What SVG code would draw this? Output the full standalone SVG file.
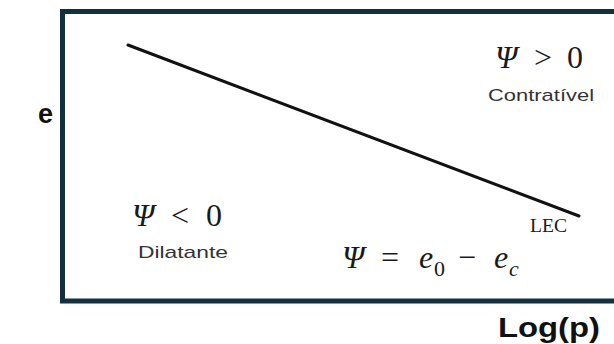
<svg xmlns="http://www.w3.org/2000/svg" width="614" height="344" viewBox="0 0 614 344">
<style>
.m{font-family:"Liberation Serif","DejaVu Serif",serif;fill:#1a1a1a}
.i{font-style:italic}
.s{font-family:"Liberation Sans","DejaVu Sans",sans-serif;fill:#333}
.b{font-family:"Liberation Sans","DejaVu Sans",sans-serif;font-weight:bold;fill:#111}
</style>
<rect width="614" height="344" fill="#fff"/>
<g id="frame">
<rect x="62.5" y="11.5" width="620" height="289.5" fill="none" stroke="#12303e" stroke-width="5"/>
</g>
<g id="connectors">
<line x1="128" y1="45" x2="579" y2="216" stroke="#111" stroke-width="3" stroke-linecap="round"/>
</g>
<g id="axis-e"><text class="b" x="38" y="123" font-size="27">e</text></g>
<g id="axis-logp"><text class="b" x="498" y="337" font-size="28" textLength="102" lengthAdjust="spacingAndGlyphs">Log(p)</text></g>
<g id="contrativel">
<text class="m" x="495" y="68" font-size="32"><tspan class="i">Ψ</tspan><tspan x="534">&gt;</tspan><tspan x="567">0</tspan></text>
<text class="s" x="488" y="101" font-size="17" textLength="106" lengthAdjust="spacingAndGlyphs">Contratível</text>
</g>
<g id="dilatante">
<text class="m" x="132" y="226" font-size="32"><tspan class="i">Ψ</tspan><tspan x="171">&lt;</tspan><tspan x="206">0</tspan></text>
<text class="s" x="138" y="258" font-size="17" textLength="90" lengthAdjust="spacingAndGlyphs">Dilatante</text>
</g>
<g id="formula">
<text class="m" x="342" y="268" font-size="32"><tspan class="i">Ψ</tspan><tspan x="381">=</tspan><tspan class="i" x="419">e</tspan><tspan x="434" dy="8" font-size="22">0</tspan><tspan x="458" dy="-8">−</tspan><tspan class="i" x="494">e</tspan><tspan class="i" x="509" dy="8" font-size="22">c</tspan></text>
</g>
<g id="lec"><text class="m" x="530" y="232" font-size="19" textLength="37" lengthAdjust="spacingAndGlyphs">LEC</text></g>
</svg>
